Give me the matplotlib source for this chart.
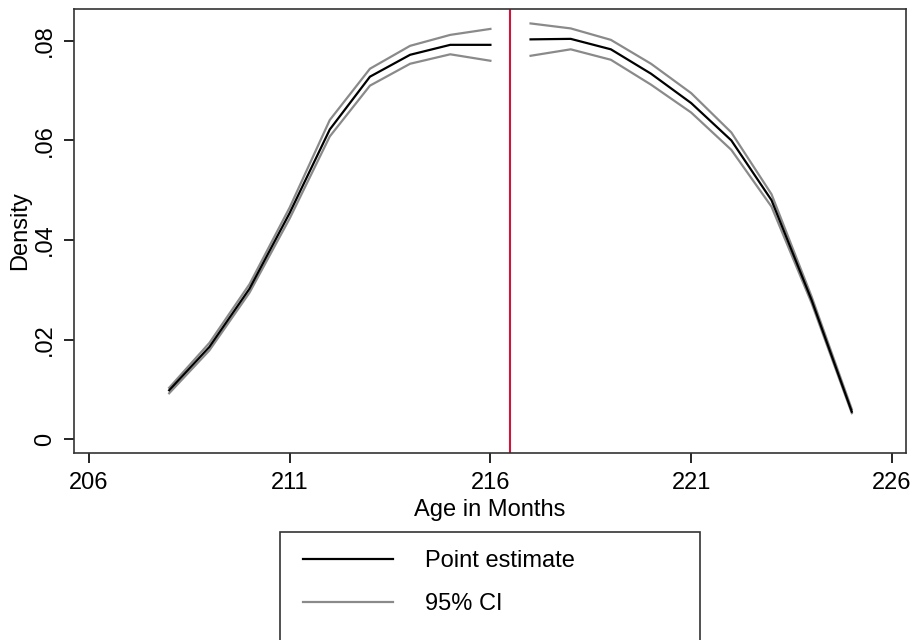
import matplotlib
matplotlib.use("Agg")
import matplotlib.pyplot as plt
from matplotlib.lines import Line2D
from matplotlib.patches import Rectangle

plt.rcParams['font.family'] = ['Liberation Sans', 'DejaVu Sans']

# data
age_left = [208, 209, 210, 211, 212, 213, 214, 215, 216]
est_left = [0.0098, 0.0185, 0.0302, 0.0454, 0.0622, 0.0728, 0.0772, 0.0792, 0.0792]
hi_left = [0.0103, 0.0193, 0.0311, 0.0465, 0.0641, 0.0744, 0.0790, 0.0812, 0.0824]
lo_left = [0.0092, 0.0178, 0.0294, 0.0443, 0.0608, 0.0710, 0.0754, 0.0773, 0.0760]

age_right = [217, 218, 219, 220, 221, 222, 223, 224, 225]
est_right = [0.0803, 0.0804, 0.0783, 0.0734, 0.0675, 0.0600, 0.0480, 0.0279, 0.0055]
hi_right = [0.0835, 0.0825, 0.0802, 0.0754, 0.0695, 0.0616, 0.0492, 0.0286, 0.0060]
lo_right = [0.0770, 0.0783, 0.0762, 0.0712, 0.0656, 0.0581, 0.0467, 0.0273, 0.0052]

cutoff = 216.5
xticks = [206, 211, 216, 221, 226]
yticks = [0, 0.02, 0.04, 0.06, 0.08]
ytick_labels = ['0', '.02', '.04', '.06', '.08']

fs = 17

fig = plt.figure(figsize=(9.11, 6.40), dpi=100)
ax = fig.add_axes([74 / 911, 1 - 453 / 640, 832 / 911, 444 / 640])

ci_color = '#8a8a8a'
for ages, est, hi, lo in [(age_left, est_left, hi_left, lo_left),
                          (age_right, est_right, hi_right, lo_right)]:
    ax.plot(ages, hi, color=ci_color, lw=1.6)
    ax.plot(ages, lo, color=ci_color, lw=1.6)
    ax.plot(ages, est, color='black', lw=1.6)

ax.axvline(cutoff, color='#d2143c', lw=1.5)

ax.set_xlim(205.63, 226.35)
ax.set_ylim(-0.0028, 0.0864)
ax.set_xticks(xticks)
ax.set_yticks(yticks)
ax.set_yticklabels(ytick_labels, rotation=90, va='center')
ax.tick_params(direction='out', length=7, width=1.2, labelsize=fs, colors='black')
ax.tick_params(axis='x', pad=7)
ax.tick_params(axis='y', pad=6)
for s in ax.spines.values():
    s.set_linewidth(1.2)
    s.set_color('#333333')

ax.set_xlabel('Age in Months', fontsize=fs, labelpad=3)
ax.set_ylabel('Density', fontsize=fs)
ax.yaxis.set_label_coords(-0.052, 0.5)

# legend box that runs off the bottom of the figure
fig.patches.append(Rectangle((280 / 911, -0.05), 420 / 911, 0.05 + (640 - 532) / 640,
                             transform=fig.transFigure, fill=False,
                             edgecolor='#333333', lw=1.2))
handles = [Line2D([], [], color='black', lw=1.6), Line2D([], [], color=ci_color, lw=1.6)]
fig.legend(handles, ['Point estimate', '95% CI'], loc='upper left',
           bbox_to_anchor=(303 / 911, 1 - 550 / 640), frameon=False, fontsize=fs,
           borderpad=0, borderaxespad=0, handlelength=3.8, handletextpad=1.36,
           labelspacing=0.9)

fig.savefig('out.png', dpi=100)
